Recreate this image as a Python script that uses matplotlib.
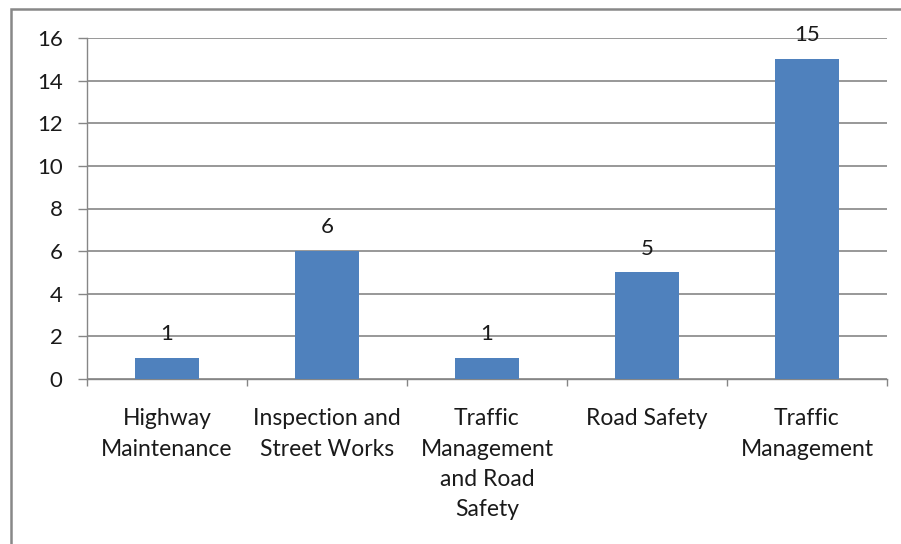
import matplotlib
matplotlib.use("Agg")
import matplotlib.pyplot as plt
from matplotlib.patches import Rectangle

categories = ["Highway\nMaintenance", "Inspection and\nStreet Works",
              "Traffic\nManagement\nand Road\nSafety", "Road Safety",
              "Traffic\nManagement"]
values = [1, 6, 1, 5, 15]
yticks = [0, 2, 4, 6, 8, 10, 12, 14, 16]

plt.rcParams['font.family'] = ['Lato', 'DejaVu Sans']
text_color = "#1a1a1a"
grid_color = "#868686"
bar_color = "#4F81BD"
fs = 16

fig = plt.figure(figsize=(9.01, 5.44), dpi=100)
ax = fig.add_axes([87/901, 1-379/544, 800/901, 341/544])

x = list(range(len(categories)))
bars = ax.bar(x, values, width=0.4, color=bar_color, zorder=3)
for xi, v in zip(x, values):
    ax.annotate(str(v), (xi, v), xytext=(0, 10), textcoords="offset points",
                ha="center", va="bottom", fontsize=fs, color=text_color)

ax.set_xlim(-0.5, len(categories) - 0.5)
ax.set_ylim(0, 16)
ax.set_yticks(yticks)
ax.yaxis.grid(True, color=grid_color, linewidth=1.2, zorder=0)
ax.tick_params(axis='y', length=6.5, width=1.0, color=grid_color,
               labelsize=fs, labelcolor=text_color, pad=11)

ax.set_xticks(x)
ax.set_xticklabels(categories, linespacing=1.55, fontsize=16.5)
ax.tick_params(axis='x', which='major', length=0,
               labelcolor=text_color, pad=21)
ax.set_xticks([i - 0.5 for i in range(len(categories) + 1)], minor=True)
ax.tick_params(axis='x', which='minor', length=5, width=1.0, color=grid_color)

for s in ["top", "right"]:
    ax.spines[s].set_visible(False)
for s in ["left", "bottom"]:
    ax.spines[s].set_color(grid_color)
    ax.spines[s].set_linewidth(1.0)

fig.add_artist(Rectangle((11/901, -0.05), 1.0, 1 - 9/544 + 0.05,
                         transform=fig.transFigure, fill=False,
                         edgecolor="#888888", linewidth=1.8))

fig.savefig("out.png", dpi=100)
